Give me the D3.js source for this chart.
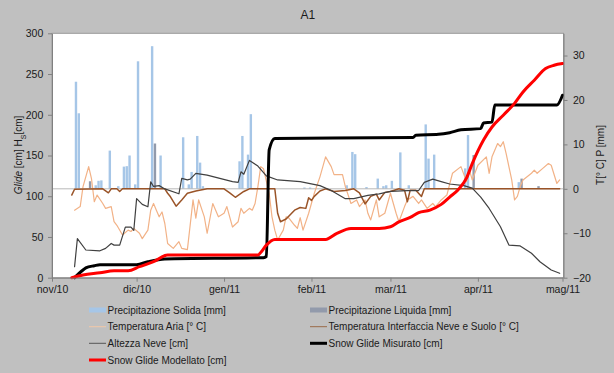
<!DOCTYPE html>
<html><head><meta charset="utf-8">
<script src="https://cdn.jsdelivr.net/npm/d3@7"></script>
<style>
html,body{margin:0;padding:0;background:#c0c0c0;}
text{font-family:"Liberation Sans",Arial,sans-serif;fill:#1a1a1a;}
</style></head>
<body><svg id="c" width="614" height="373"></svg>
<script>
// ---------------- DATA ----------------
const monthTicks = ["2010-11-01","2010-12-01","2011-01-01","2011-02-01","2011-03-01","2011-04-01","2011-05-01"];
const monthLabels = ["nov/10","dic/10","gen/11","feb/11","mar/11","apr/11","mag/11"];
const leftTicks = [0,50,100,150,200,250,300];
const rightTicks = [-20,-10,0,10,20,30];

// Precipitation [mm] (right axis)
const precSolida = [
["2010-11-09",24.1],["2010-11-10",17.0],["2010-11-16",0.8],["2010-11-17",1.8],["2010-11-18",1.9],
["2010-11-21",8.6],["2010-11-24",0.6],["2010-11-26",5.0],["2010-11-27",5.1],["2010-11-28",7.5],
["2010-11-30",1.0],["2010-12-01",28.7],["2010-12-06",32.1],["2010-12-09",7.5],["2010-12-17",11.6],
["2010-12-19",1.0],["2010-12-20",3.8],["2010-12-22",11.9],["2010-12-23",5.9],["2010-12-24",0.6],
["2011-01-06",6.2],["2011-01-07",11.9],["2011-01-09",7.7],["2011-01-10",16.8],["2011-01-29",0.3],
["2011-01-31",0.3],["2011-02-13",0.8],["2011-02-15",8.3],["2011-02-16",7.8],["2011-02-20",0.4],
["2011-02-24",2.3],["2011-02-26",0.6],["2011-02-27",0.8],["2011-03-01",1.8],["2011-03-04",8.2],
["2011-03-07",0.8],["2011-03-13",14.5],["2011-03-14",6.8],["2011-03-16",7.7],["2011-03-27",4.6],
["2011-03-28",12.1],["2011-04-15",1.5]];
const precLiquida = [
["2010-11-14",1.7],["2010-12-07",10.2],["2011-03-30",7.6],["2011-04-16",2.3],["2011-04-22",0.6]];

// Air temperature [°C] (right axis)
const tempAria = [
["2010-11-09",-4.8],["2010-11-11",-4.0],["2010-11-12",0.5],["2010-11-14",5.0],["2010-11-15",2.3],
["2010-11-16",-2.9],["2010-11-17",-1.4],["2010-11-19",-3.3],["2010-11-20",-4.4],["2010-11-22",-4.0],
["2010-11-23",-7.4],["2010-11-24",-8.2],["2010-11-26",-10.4],["2010-11-28",-9.3],["2010-11-29",-9.6],
["2010-11-30",-8.9],["2010-12-02",-10.0],["2010-12-03",-11.2],["2010-12-05",-9.3],["2010-12-06",-4.8],
["2010-12-07",-3.3],["2010-12-08",-4.8],["2010-12-09",-6.3],["2010-12-10",-5.2],["2010-12-11",-7.8],
["2010-12-12",-12.3],["2010-12-14",-13.4],["2010-12-16",-11.9],["2010-12-17",-13.4],["2010-12-19",-13.7],
["2010-12-21",-2.5],["2010-12-22",-6.6],["2010-12-23",-2.5],["2010-12-25",-6.3],["2010-12-26",-10.0],
["2010-12-28",-3.3],["2010-12-30",-6.3],["2011-01-01",-5.5],["2011-01-02",-4.0],["2011-01-04",-8.6],
["2011-01-06",-7.4],["2011-01-07",-4.4],["2011-01-08",-5.5],["2011-01-10",-4.4],["2011-01-11",-4.8],
["2011-01-12",-3.3],["2011-01-13",0.5],["2011-01-14",5.0],["2011-01-15",4.5],["2011-01-17",-1.0],
["2011-01-18",-6.3],["2011-01-19",-9.3],["2011-01-20",-11.5],["2011-01-22",-9.3],["2011-01-23",-6.3],
["2011-01-24",-6.6],["2011-01-26",-8.2],["2011-01-27",-8.9],["2011-01-28",-6.5],["2011-01-29",-9.3],
["2011-01-31",-5.5],["2011-02-02",-1.0],["2011-02-04",2.7],["2011-02-06",7.2],["2011-02-08",5.0],
["2011-02-09",3.2],["2011-02-12",3.2],["2011-02-13",0.5],["2011-02-15",-3.3],["2011-02-17",-2.5],
["2011-02-18",-4.0],["2011-02-20",-2.5],["2011-02-21",-5.5],["2011-02-22",-7.0],["2011-02-24",-2.5],
["2011-02-25",-6.3],["2011-02-27",-5.5],["2011-03-01",-1.0],["2011-03-03",-5.5],["2011-03-04",-7.4],
["2011-03-06",-4.0],["2011-03-07",-2.5],["2011-03-09",-1.7],["2011-03-11",-3.3],["2011-03-12",-2.5],
["2011-03-14",-4.4],["2011-03-16",-3.3],["2011-03-17",-4.0],["2011-03-19",-2.5],["2011-03-21",-1.4],
["2011-03-23",3.5],["2011-03-26",5.0],["2011-03-28",1.6],["2011-03-29",4.2],["2011-03-30",2.0],
["2011-04-01",5.3],["2011-04-04",7.2],["2011-04-05",3.5],["2011-04-06",7.2],["2011-04-08",10.2],
["2011-04-09",9.5],["2011-04-10",10.6],["2011-04-11",8.0],["2011-04-13",2.0],["2011-04-14",-2.5],
["2011-04-15",-1.7],["2011-04-16",0.5],["2011-04-17",2.0],["2011-04-20",3.5],["2011-04-21",4.2],
["2011-04-22",3.5],["2011-04-24",4.6],["2011-04-26",5.7],["2011-04-27",5.3],["2011-04-29",1.2],
["2011-04-30",2.0]];

// Snow-soil interface temperature [°C] (right axis)
const tempInterfaccia = [
["2010-11-08",-1.4],["2010-11-09",-0.1],["2010-11-19",0],["2010-11-21",-0.9],["2010-11-22",0],
["2010-11-24",0],["2010-11-25",-0.6],["2010-11-26",0],["2010-12-11",0],["2010-12-12",-1.0],
["2010-12-13",-1.8],["2010-12-15",-3.9],["2010-12-17",-2.5],["2010-12-19",-1.0],["2010-12-22",-0.5],
["2010-12-26",0],["2011-01-01",0],["2011-01-03",-0.9],["2011-01-05",-1.9],["2011-01-08",-0.6],
["2011-01-10",0],["2011-01-19",0],["2011-01-20",-5.5],["2011-01-21",-7.4],["2011-01-23",-6.8],
["2011-01-26",-4.8],["2011-01-28",-4.2],["2011-01-30",-4.4],["2011-01-31",-2.0],["2011-02-01",-2.6],
["2011-02-02",-1.7],["2011-02-04",-0.5],["2011-02-06",0],["2011-02-09",-0.6],["2011-02-13",-0.4],
["2011-02-16",0],["2011-02-18",-0.9],["2011-02-20",-3.4],["2011-02-22",-1.7],["2011-02-24",-1.2],
["2011-02-25",-2.5],["2011-02-27",-0.8],["2011-03-01",-0.6],["2011-03-04",0],["2011-03-06",-0.3],
["2011-03-07",-2.9],["2011-03-08",-0.3],["2011-03-10",-0.3],["2011-03-12",-1.7],["2011-03-13",0],
["2011-04-30",0]];

// Snow height [cm] (left axis)
const altezzaNeve = [
["2010-11-09",13.5],["2010-11-10",48],["2010-11-13",34],["2010-11-18",33],["2010-11-20",36],
["2010-11-22",42],["2010-11-23",40],["2010-11-25",40],["2010-11-27",62],["2010-11-29",62],
["2010-11-30",58],["2010-12-01",97],["2010-12-03",90],["2010-12-05",87],["2010-12-06",117.7],
["2010-12-07",112],["2010-12-09",113],["2010-12-11",109],["2010-12-16",103],["2010-12-17",122],
["2010-12-19",120],["2010-12-20",121],["2010-12-22",128],["2010-12-26",126],["2011-01-04",118],
["2011-01-06",117],["2011-01-07",130],["2011-01-08",127],["2011-01-10",144],["2011-01-13",137],
["2011-01-16",125],["2011-01-20",120],["2011-01-28",118],["2011-02-04",113],["2011-02-08",107],
["2011-02-13",97],["2011-02-16",97],["2011-02-21",101],["2011-02-25",103],["2011-03-01",106],
["2011-03-07",107],["2011-03-11",107],["2011-03-13",117],["2011-03-16",121],["2011-03-19",118],
["2011-03-22",115],["2011-03-27",113],["2011-03-30",110],["2011-04-02",99],["2011-04-05",85],
["2011-04-09",62.5],["2011-04-12",40],["2011-04-16",39],["2011-04-20",30],["2011-04-23",19.6],
["2011-04-27",9.4],["2011-04-30",5.4]];

// Snow glide measured [cm] (left axis)
const glideMisurato = [
["2010-11-09",0],["2010-11-12",9.4],["2010-11-13",12],["2010-11-16",14.7],["2010-11-18",16],
["2010-12-01",16],["2010-12-05",19.6],["2010-12-11",23],["2011-01-15",24.6],["2011-01-16",26],
["2011-01-17",157],["2011-01-19",171],["2011-03-09",172],["2011-03-10",175],["2011-03-18",176],
["2011-03-22",178],["2011-03-26",181.5],["2011-04-02",183],["2011-04-03",190],["2011-04-06",191],
["2011-04-07",212],["2011-04-29",212],["2011-05-01",224]];

// Snow glide modelled [cm] (left axis)
const glideModellato = [
["2010-11-08",0],["2010-11-12",3.3],["2010-11-18",6],["2010-11-23",8.6],["2010-11-28",8.6],
["2010-12-02",13.5],["2010-12-07",19.6],["2010-12-12",27.8],["2011-01-13",27.8],["2011-01-14",31],
["2011-01-16",40],["2011-01-19",47],["2011-02-06",47],["2011-02-10",54.4],["2011-02-15",60.5],
["2011-02-25",60.5],["2011-03-01",62.6],["2011-03-04",68.6],["2011-03-08",74],["2011-03-11",80],
["2011-03-15",83],["2011-03-19",90],["2011-03-22",99],["2011-03-25",108],["2011-03-28",122.6],
["2011-03-30",140],["2011-04-03",169],["2011-04-06",185],["2011-04-10",199.5],["2011-04-14",214],
["2011-04-17",228],["2011-04-21",242.4],["2011-04-25",256.7],["2011-04-28",260.8],["2011-05-01",262.8]];

// ---------------- CHART ----------------
const parse = d3.timeParse("%Y-%m-%d");
const svg = d3.select("#c");
const P = {l:52, r:563.5, t:33.3, b:277.7};

svg.append("rect").attr("width",614).attr("height",373).attr("fill","#c0c0c0");

const x = d3.scaleTime().domain([parse("2010-11-01"), parse("2011-05-01")]).range([P.l, 562.5]);
const yL = d3.scaleLinear().domain([0,300]).range([P.b, P.t]);
const yR = d3.scaleLinear().domain([-20,35]).range([P.b, P.t]);

svg.append("rect").attr("x",P.l).attr("y",P.t).attr("width",P.r-P.l).attr("height",P.b-P.t)
  .attr("fill","#fff").attr("stroke","#9a9a9a").attr("stroke-width",1);

const dayW = x(parse("2010-11-02")) - x(parse("2010-11-01"));
const bw = dayW*0.85;

function bars(data, color){
  svg.append("g").selectAll("rect").data(data).join("rect")
    .attr("x", d => x(parse(d[0])) + dayW/2 - bw/2)
    .attr("y", d => yR(d[1]))
    .attr("width", bw)
    .attr("height", d => yR(0) - yR(d[1]))
    .attr("fill", color);
}
bars(precSolida, "#a6c6e7");
bars(precLiquida, "#929aab");

// zero line of right axis
svg.append("line").attr("x1",P.l).attr("x2",P.r).attr("y1",yR(0)).attr("y2",yR(0))
  .attr("stroke","#b8b8b8").attr("stroke-width",1);

function line(data, scale, color, width, curve){
  const g = d3.line().x(d => x(parse(d[0]))).y(d => scale(d[1])).curve(curve || d3.curveLinear);
  svg.append("path").datum(data).attr("d", g).attr("fill","none")
    .attr("stroke", color).attr("stroke-width", width)
    .attr("stroke-linejoin","round").attr("stroke-linecap","round");
}
line(tempAria, yR, "#f2b287", 1.2);
line(tempInterfaccia, yR, "#9a5428", 1.5);
line(altezzaNeve, yL, "#404040", 1.2);
line(glideMisurato, yL, "#000000", 3, d3.curveMonotoneX);
line(glideModellato, yL, "#ff0000", 3, d3.curveMonotoneX);

// axes
const fs = "10.5px";
const ax = svg.append("g").attr("transform",`translate(0,${P.b})`)
  .call(d3.axisBottom(x).tickValues(monthTicks.map(parse))
        .tickFormat((d,i) => monthLabels[i]).tickSize(4).tickSizeOuter(0).tickPadding(3.5));
const al = svg.append("g").attr("transform",`translate(${P.l},0)`)
  .call(d3.axisLeft(yL).tickValues(leftTicks).tickSize(4).tickSizeOuter(0).tickPadding(4.7));
const ar = svg.append("g").attr("transform",`translate(${P.r},0)`)
  .call(d3.axisRight(yR).tickValues(rightTicks).tickSize(4).tickSizeOuter(0).tickPadding(5.5));
[ax,al,ar].forEach(g => {
  g.selectAll("path.domain").attr("stroke","#808080");
  g.selectAll(".tick line").attr("stroke","#808080");
  g.selectAll("text").style("font-size",fs).style("font-family",'"Liberation Sans",Arial,sans-serif').attr("fill","#1a1a1a");
});

// title
svg.append("text").attr("x",(P.l+P.r)/2).attr("y",18.5).attr("text-anchor","middle")
  .style("font-size","12px").text("A1");

// left axis title
const lt = svg.append("text").attr("transform","translate(22,155) rotate(-90)")
  .attr("text-anchor","middle").style("font-size","10px");
lt.append("tspan").style("font-style","italic").text("Glide");
lt.append("tspan").text(" [cm] H");
lt.append("tspan").attr("baseline-shift","sub").style("font-size","7px").text("S");
lt.append("tspan").text("[cm]");

// right axis title
svg.append("text").attr("transform","translate(604,155) rotate(-90)")
  .attr("text-anchor","middle").style("font-size","10px").text("T[° C] P [mm]");

// legend
const legend = [
  {label:"Precipitazione Solida [mm]", type:"rect", color:"#a6c6e7", col:0, row:0},
  {label:"Precipitazione Liquida [mm]", type:"rect", color:"#929aab", col:1, row:0},
  {label:"Temperatura Aria [° C]", type:"line", color:"#f2c8a8", w:1, col:0, row:1},
  {label:"Temperatura Interfaccia Neve e Suolo [° C]", type:"line", color:"#9a6a48", w:1, col:1, row:1},
  {label:"Altezza Neve [cm]", type:"line", color:"#555", w:1, col:0, row:2},
  {label:"Snow Glide Misurato [cm]", type:"line", color:"#000", w:3, col:1, row:2},
  {label:"Snow Glide Modellato [cm]", type:"line", color:"#ff0000", w:3, col:0, row:3}
];
const colX = [89, 310], rowY = [310, 326.7, 343.3, 360];
legend.forEach(it => {
  const x0 = colX[it.col], y0 = rowY[it.row];
  if (it.type === "rect") {
    svg.append("rect").attr("x",x0).attr("y",y0-2.5).attr("width",17).attr("height",5).attr("fill",it.color);
  } else {
    svg.append("line").attr("x1",x0).attr("x2",x0+17).attr("y1",y0).attr("y2",y0)
      .attr("stroke",it.color).attr("stroke-width",it.w);
  }
  svg.append("text").attr("x",x0+18.5).attr("y",y0+3.6).style("font-size","10px").text(it.label);
});
</script></body></html>
